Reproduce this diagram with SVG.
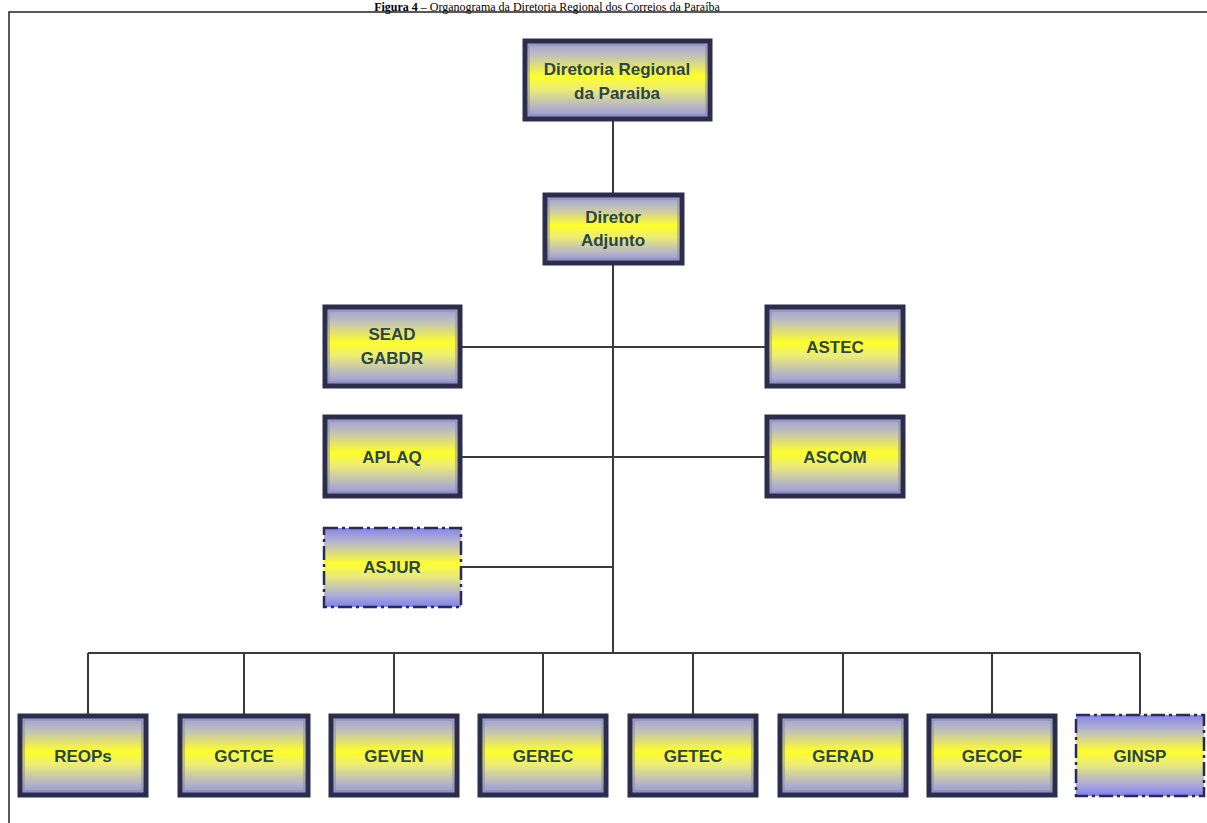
<svg xmlns="http://www.w3.org/2000/svg" width="1207" height="823" viewBox="0 0 1207 823">
<defs>
<linearGradient id="g" x1="0" y1="0" x2="0" y2="1">
<stop offset="0" stop-color="#9a9ae0"/>
<stop offset="0.2" stop-color="#c4c4b4"/>
<stop offset="0.45" stop-color="#ffff2a"/>
<stop offset="0.62" stop-color="#ecec78"/>
<stop offset="0.85" stop-color="#b4b4c8"/>
<stop offset="1" stop-color="#9090dc"/>
</linearGradient>
<linearGradient id="gd" x1="0" y1="0" x2="0" y2="1">
<stop offset="0" stop-color="#8484ee"/>
<stop offset="0.2" stop-color="#bcbcc4"/>
<stop offset="0.45" stop-color="#ffff30"/>
<stop offset="0.62" stop-color="#e8e880"/>
<stop offset="0.85" stop-color="#acacd8"/>
<stop offset="1" stop-color="#8080f0"/>
</linearGradient>
</defs>
<style>
.b{fill:url(#g);stroke:#2c2c4c;stroke-width:5}
.bi{fill:none;stroke:#8a8aa8;stroke-width:1}
.d{fill:url(#gd);stroke:#2a2a58;stroke-width:2.5;stroke-dasharray:14 4 3 4}
.t{font-family:"Liberation Sans",Arial,sans-serif;font-weight:bold;font-size:17px;fill:#2a4648;text-anchor:middle;dominant-baseline:central}
.c{stroke:#3a3a3a;stroke-width:2;fill:none}
.title{font-family:"Liberation Serif","Times New Roman",serif;font-size:12px;fill:#000;text-anchor:middle}
</style>
<rect width="1207" height="823" fill="#fff"/>
<text class="title" x="547" y="11"><tspan font-weight="bold">Figura 4</tspan> – Organograma da Diretoria Regional dos Correios da Paraíba</text>
<rect x="9" y="12" width="1220" height="830" fill="none" stroke="#222" stroke-width="1.5"/>

<g id="connectors">
<path class="c" d="M613 121V193M613 265V653M462 347H765M462 457H765M462 567H613M88 653H1140"/>
<path class="c" d="M88 653V714M244 653V714M394 653V714M543 653V714M693 653V714M843 653V714M992 653V714M1140 653V714"/>
</g>

<g id="n-diretoria"><rect class="b" x="525" y="41" width="185" height="78"/><rect class="bi" x="529" y="45" width="177" height="70"/><text class="t" x="617" y="69">Diretoria Regional</text><text class="t" x="617" y="93">da Paraiba</text></g>
<g id="n-adjunto"><rect class="b" x="545" y="195" width="137" height="68"/><rect class="bi" x="549" y="199" width="129" height="60"/><text class="t" x="613" y="217">Diretor</text><text class="t" x="613" y="240">Adjunto</text></g>
<g id="n-sead"><rect class="b" x="325" y="307" width="135" height="79"/><rect class="bi" x="329" y="311" width="127" height="71"/><text class="t" x="392" y="334">SEAD</text><text class="t" x="392" y="358">GABDR</text></g>
<g id="n-astec"><rect class="b" x="767" y="307" width="136" height="79"/><rect class="bi" x="771" y="311" width="128" height="71"/><text class="t" x="835" y="347">ASTEC</text></g>
<g id="n-aplaq"><rect class="b" x="325" y="417" width="135" height="79"/><rect class="bi" x="329" y="421" width="127" height="71"/><text class="t" x="392" y="457">APLAQ</text></g>
<g id="n-ascom"><rect class="b" x="767" y="417" width="136" height="79"/><rect class="bi" x="771" y="421" width="128" height="71"/><text class="t" x="835" y="457">ASCOM</text></g>
<g id="n-asjur"><rect class="d" x="324" y="528" width="137" height="79"/><text class="t" x="392" y="567">ASJUR</text></g>

<g id="n-reops"><rect class="b" x="20" y="716" width="126" height="79"/><rect class="bi" x="24" y="720" width="118" height="71"/><text class="t" x="83" y="756">REOPs</text></g>
<g id="n-gctce"><rect class="b" x="180" y="716" width="128" height="79"/><rect class="bi" x="184" y="720" width="120" height="71"/><text class="t" x="244" y="756">GCTCE</text></g>
<g id="n-geven"><rect class="b" x="331" y="716" width="126" height="79"/><rect class="bi" x="335" y="720" width="118" height="71"/><text class="t" x="394" y="756">GEVEN</text></g>
<g id="n-gerec"><rect class="b" x="480" y="716" width="126" height="79"/><rect class="bi" x="484" y="720" width="118" height="71"/><text class="t" x="543" y="756">GEREC</text></g>
<g id="n-getec"><rect class="b" x="630" y="716" width="126" height="79"/><rect class="bi" x="634" y="720" width="118" height="71"/><text class="t" x="693" y="756">GETEC</text></g>
<g id="n-gerad"><rect class="b" x="780" y="716" width="126" height="79"/><rect class="bi" x="784" y="720" width="118" height="71"/><text class="t" x="843" y="756">GERAD</text></g>
<g id="n-gecof"><rect class="b" x="929" y="716" width="126" height="79"/><rect class="bi" x="933" y="720" width="118" height="71"/><text class="t" x="992" y="756">GECOF</text></g>
<g id="n-ginsp"><rect class="d" x="1076" y="715" width="128" height="81"/><text class="t" x="1140" y="756">GINSP</text></g>
</svg>
